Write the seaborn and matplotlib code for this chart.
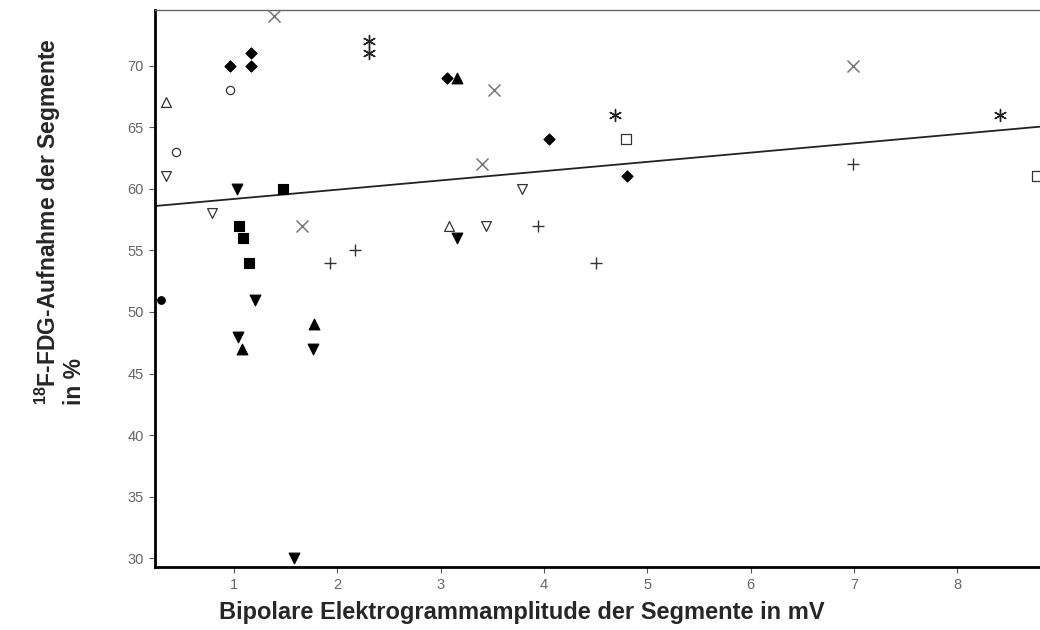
import matplotlib
matplotlib.use("Agg")
import matplotlib.pyplot as plt
import seaborn as sns
import numpy as np
import pandas as pd

# data (x = amplitude in mV, y = FDG uptake in %)
diamond_x = [0.96, 1.16, 1.16, 3.06, 4.05, 4.80]
diamond_y = [70, 71, 70, 69, 64, 61]
dot_x = [0.29]
dot_y = [51]
tri_up_x = [3.16, 1.77, 1.08]
tri_up_y = [69, 49, 47]
tri_down_x = [1.03, 3.16, 1.20, 1.04, 1.765, 1.58]
tri_down_y = [60, 56, 51, 48, 47, 30]
square_x = [1.47, 1.045, 1.09, 1.145]
square_y = [60, 57, 56, 54]
open_tri_up_x = [0.34, 3.08]
open_tri_up_y = [67, 57]
open_tri_down_x = [0.34, 0.79, 3.79, 3.44]
open_tri_down_y = [61, 58, 60, 57]
open_circle_x = [0.96, 0.44]
open_circle_y = [68, 63]
open_square_x = [4.79, 8.77]
open_square_y = [64, 61]
cross_x = [1.39, 3.52, 3.40, 6.99, 1.66]
cross_y = [74, 68, 62, 70, 57]
plus_x = [1.93, 2.17, 3.94, 4.50, 6.99]
plus_y = [54, 55, 57, 54, 62]
star_x = [2.31, 2.31, 4.69, 8.41]
star_y = [72, 71, 66, 66]

# regression line as drawn in the original
fit_intercept = 58.42
fit_slope = 0.752

x_ticks = [1, 2, 3, 4, 5, 6, 7, 8]
y_ticks = [30, 35, 40, 45, 50, 55, 60, 65, 70]

sns.set_theme(style="white")
plt.rcParams['font.family'] = ['Liberation Sans', 'DejaVu Sans']
plt.rcParams['mathtext.fontset'] = 'custom'
plt.rcParams['mathtext.rm'] = 'Liberation Sans:bold'
plt.rcParams['mathtext.bf'] = 'Liberation Sans:bold'

fig = plt.figure(figsize=(10.4, 6.3), dpi=100)
ax = fig.add_axes([0.149, 0.1, 0.851, 0.884])

# (x, y, marker, facecolor, edgecolor, size, linewidth)
groups = [
    (diamond_x, diamond_y, "D", "black", "black", 32, 0.8),
    (dot_x, dot_y, "o", "black", "black", 30, 0.8),
    (tri_up_x, tri_up_y, "^", "black", "black", 60, 0.8),
    (tri_down_x, tri_down_y, "v", "black", "black", 60, 0.8),
    (square_x, square_y, "s", "black", "black", 58, 0.8),
    (open_tri_up_x, open_tri_up_y, "^", "white", "#333333", 50, 0.9),
    (open_tri_down_x, open_tri_down_y, "v", "white", "#333333", 50, 0.9),
    (open_circle_x, open_circle_y, "o", "white", "#333333", 35, 0.9),
    (open_square_x, open_square_y, "s", "white", "#333333", 62, 0.9),
    (cross_x, cross_y, "x", "#777777", "#777777", 75, 1.1),
    (plus_x, plus_y, "+", "#333333", "#333333", 75, 1.0),
    (star_x, star_y, (6, 2, 0), "#222222", "#222222", 75, 1.0),
]

for gx, gy, mk, fc, ec, s, lw in groups:
    df = pd.DataFrame({"x": gx, "y": gy})
    sns.scatterplot(data=df, x="x", y="y", marker=mk, s=s, ax=ax,
                    color=fc, edgecolor=ec, linewidth=lw, zorder=3)

line_x = np.array([0.235, 8.8])
ax.plot(line_x, fit_intercept + fit_slope * line_x, color="#222222",
        lw=1.3, zorder=2)

ax.set_xlim(0.235, 8.8)
ax.set_ylim(29.3, 74.5)
ax.set_xticks(x_ticks)
ax.set_yticks(y_ticks)
ax.tick_params(axis="both", direction="out", length=4, width=0.8,
               colors="#555555", labelsize=10.5, labelcolor="#666666",
               bottom=True, left=True, pad=4)
ax.set_xlabel("")
ax.set_ylabel("")

for side in ["left", "bottom"]:
    ax.spines[side].set_color("black")
    ax.spines[side].set_linewidth(2)
ax.spines["top"].set_color("#666666")
ax.spines["top"].set_linewidth(1)
ax.spines["right"].set_visible(False)

fig.text(0.502, 0.027, "Bipolare Elektrogrammamplitude der Segmente in mV",
         ha="center", va="center", fontsize=17, fontweight="bold")
fig.text(0.057, 0.648, "$^{\\mathbf{18}}$F-FDG-Aufnahme der Segmente\nin %",
         rotation=90, ha="center", va="center", fontsize=16.5,
         fontweight="bold", multialignment="left", linespacing=1.0)

plt.savefig("out.png", dpi=100)
plt.close(fig)
